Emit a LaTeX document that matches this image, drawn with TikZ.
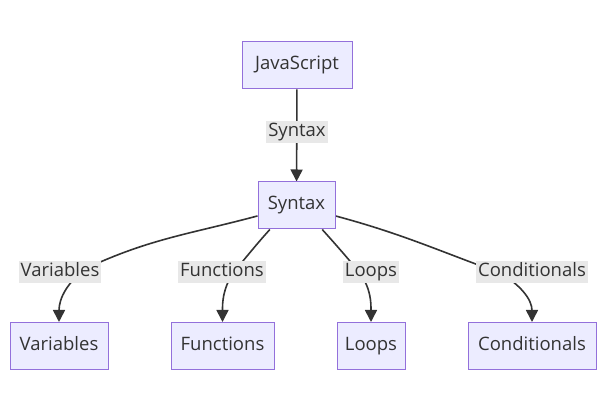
\documentclass[tikz,border=0pt]{standalone}
\usepackage{fontspec}
\setmainfont{Open Sans}
\usepackage{xcolor}
\usepackage{tikz}
\usetikzlibrary{arrows.meta, calc, backgrounds}
\definecolor{nodefill}{HTML}{ECECFF}
\definecolor{nodeline}{HTML}{9370DB}
\definecolor{lblfill}{HTML}{E8E8E8}
\definecolor{inkgray}{HTML}{333333}

\begin{document}
\begin{tikzpicture}[x=1pt, y=1pt,
    box/.style={draw=nodeline, fill=nodefill, line width=1pt, minimum height=47pt,
      inner sep=0pt, text=inkgray, text height=13pt, text depth=4pt,
      font=\fontsize{18.5}{22}\selectfont},
    lbl/.style={fill=lblfill, minimum height=22pt, inner xsep=2pt, inner ysep=0pt,
      text=inkgray, text height=13pt, text depth=4pt,
      font=\fontsize{18.5}{22}\selectfont},
    edge/.style={draw=inkgray, line width=1.6pt, -{Triangle[length=12pt, width=12pt]}}]

      \useasboundingbox (0,0) rectangle (606,412);

      % boxes
      \node[box, minimum width=110pt] (js)  at (297, 346.5) {JavaScript};
      \node[box, minimum width=77pt]  (syn) at (296.5, 206.5) {Syntax};
      \node[box, minimum width=98pt]  (var) at (59, 66)    {Variables};
      \node[box, minimum width=103pt] (fun) at (222.5, 66) {Functions};
      \node[box, minimum width=68pt]  (lop) at (371, 66)   {Loops};
      \node[box, minimum width=128pt] (cnd) at (532, 66)   {Conditionals};

      % edge labels
      \node[lbl] (lSyn) at (297, 280) {Syntax};
      \node[lbl] (lVar) at (60, 140)  {Variables};
      \node[lbl] (lFun) at (222, 140) {Functions};
      \node[lbl] (lLop) at (371, 140) {Loops};
      \node[lbl] (lCnd) at (532, 140) {Conditionals};

      \coordinate (viaVar) at ($(lVar.center)+(27,4)$);
      \coordinate (viaFun) at ($(lFun.center)+(11,-1)$);
      \coordinate (viaLop) at ($(lLop.center)+(-11,-1)$);
      \coordinate (viaCnd) at ($(lCnd.center)+(-32,-1)$);

      \begin{scope}[on background layer]
        \draw[edge] (js) -- (syn);
        \draw[edge] (syn.195) to[out=195, in=25] (viaVar) to[out=215, in=90] (var.north);
        \draw[edge] (syn.222) to[out=228, in=50] (viaFun) to[out=238, in=90] (fun.north);
        \draw[edge] (syn.-43) to[out=-48, in=130] (viaLop) to[out=-56, in=90] (lop.north);
        \draw[edge] (syn.-15) to[out=-15, in=160] (viaCnd) to[out=-30, in=90] (cnd.north);
      \end{scope}

    \end{tikzpicture}
\end{document}
